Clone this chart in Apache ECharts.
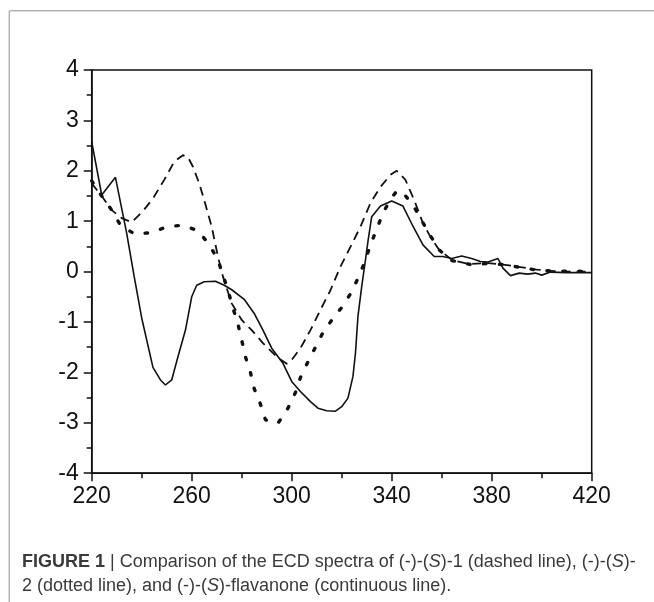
<!DOCTYPE html>
<html>
<head>
<meta charset="utf-8">
<script src="https://cdn.jsdelivr.net/npm/echarts@6/dist/echarts.min.js"></script>
<style>
  html, body { margin: 0; padding: 0; background: #fff; }
  #chart { width: 654px; height: 602px; }
</style>
</head>
<body>
<div id="chart"></div>
<script>
// ---- Data (wavelength in nm, ECD value) ----
const xTicks = [220, 260, 300, 340, 380, 420];
const yTicks = [-4, -3, -2, -1, 0, 1, 2, 3, 4];

// (-)-(S)-1 : dashed line
const compound1Nm = [220, 224, 228, 232, 236, 240.5, 244.5, 249, 253, 256.5, 258.5, 260.5, 263, 265, 268, 270.5, 272.5, 276, 280, 284, 288.5, 294, 298, 300, 303.5, 307.5, 311.5, 315.5, 319.5, 323.5, 327.5, 331.5, 335.5, 339.5, 342, 345.5, 349, 352.5, 355.5, 359, 364.5, 371, 378.5, 384.5, 390, 398, 405, 411, 420];
const compound1CD = [1.75, 1.5, 1.22, 1.06, 0.98, 1.2, 1.45, 1.82, 2.18, 2.31, 2.27, 2.08, 1.75, 1.42, 0.89, 0.3, -0.1, -0.63, -0.96, -1.16, -1.42, -1.69, -1.83, -1.75, -1.52, -1.16, -0.76, -0.37, 0.1, 0.49, 0.89, 1.36, 1.68, 1.92, 2.0, 1.82, 1.42, 0.96, 0.69, 0.43, 0.22, 0.15, 0.17, 0.14, 0.1, 0.04, 0.01, 0.0, 0.0];

// (-)-(S)-2 : dotted line
const compound2Nm = [220, 224, 228, 231.5, 237, 244, 250, 256.5, 262.5, 267, 270.5, 272.5, 274.5, 276.5, 278.5, 280, 281.5, 283.5, 285, 287.5, 289.5, 294.5, 298.5, 301.5, 303.5, 306.5, 309.5, 312.5, 316.5, 320.5, 324, 327, 329.5, 331.5, 334, 336.5, 339.5, 342, 344.5, 349, 352.5, 355.5, 359, 364, 371.5, 378.5, 384.5, 398, 405, 411.5, 420];
const compound2CD = [1.8, 1.5, 1.22, 0.92, 0.75, 0.77, 0.89, 0.92, 0.81, 0.54, 0.23, -0.07, -0.37, -0.72, -1.04, -1.36, -1.69, -2.0, -2.32, -2.63, -2.94, -3.01, -2.71, -2.4, -2.1, -1.79, -1.5, -1.21, -0.93, -0.68, -0.4, -0.08, 0.23, 0.53, 0.84, 1.16, 1.43, 1.6, 1.57, 1.28, 0.97, 0.71, 0.43, 0.22, 0.14, 0.16, 0.14, 0.03, 0.01, 0.01, 0.0];

// (-)-(S)-flavanone : continuous line
const flavanoneNm = [220, 224, 229.5, 234, 237, 240, 244.5, 247.5, 249.5, 252, 254.5, 257.5, 260, 262, 265, 269.5, 273, 276, 281, 285, 288.5, 292, 296.5, 300, 303.5, 307.5, 310.5, 314, 317.5, 320, 322.5, 324.5, 325.5, 326.5, 328, 329.5, 330.5, 332, 335.5, 340, 344.5, 348.5, 352.5, 357, 360.5, 364, 368, 372, 375.5, 378.5, 382.5, 384.5, 387.5, 391, 394.5, 397.5, 400, 403.5, 410, 420];
const flavanoneCD = [2.58, 1.52, 1.87, 0.76, -0.1, -0.92, -1.9, -2.15, -2.25, -2.15, -1.69, -1.16, -0.5, -0.27, -0.2, -0.19, -0.27, -0.36, -0.55, -0.83, -1.16, -1.52, -1.82, -2.18, -2.38, -2.58, -2.71, -2.76, -2.77, -2.68, -2.51, -2.08, -1.62, -0.89, -0.3, 0.23, 0.6, 1.09, 1.3, 1.4, 1.3, 0.9, 0.53, 0.3, 0.3, 0.26, 0.31, 0.26, 0.2, 0.19, 0.26, 0.07, -0.08, -0.03, -0.05, -0.03, -0.07, -0.01, -0.02, -0.02];

const captionLine1 = '{b|FIGURE 1} {sep|\u007C} Comparison of the ECD spectra of (-)-({i|S})-1 (dashed line), (-)-({i|S})-';
const captionLine2 = '2 (dotted line), and (-)-({i|S})-flavanone (continuous line).';

// ---- Chart ----
const zip = (xs, ys) => xs.map((x, i) => [x, ys[i]]);
const chart = echarts.init(document.getElementById('chart'), null, { renderer: 'canvas' });

const labelFont = { fontFamily: 'Liberation Sans, Arial, sans-serif', fontSize: 23, color: '#111' };
const capFont = 'Liberation Sans Narrow, Liberation Sans, Arial, sans-serif';
const capSize = 18;
const capRich = {
  b: { fontFamily: capFont, fontSize: capSize, fontWeight: 'bold', color: '#2a2a2a' },
  sep: { fontFamily: capFont, fontSize: capSize, color: '#555' },
  i: { fontFamily: capFont, fontSize: capSize, fontStyle: 'italic', color: '#3a3a3a' }
};

chart.setOption({
  animation: false,
  backgroundColor: '#fff',
  grid: { left: 91.7, right: 62.3, top: 70, bottom: 128.8, show: true, borderColor: '#111', borderWidth: 1.5, backgroundColor: 'transparent' },
  xAxis: {
    type: 'value', min: xTicks[0], max: xTicks[xTicks.length - 1], interval: 40,
    axisLine: { show: true, onZero: false, lineStyle: { color: '#111', width: 1.5 } },
    axisTick: { show: true, length: 8, lineStyle: { color: '#111', width: 1.5 } },
    minorTick: { show: true, splitNumber: 2, length: 5, lineStyle: { color: '#111', width: 1.5 } },
    splitLine: { show: false },
    axisLabel: Object.assign({ margin: 12 }, labelFont)
  },
  yAxis: {
    type: 'value', min: yTicks[0], max: yTicks[yTicks.length - 1], interval: 1,
    axisLine: { show: true, onZero: false, lineStyle: { color: '#111', width: 1.5 } },
    axisTick: { show: true, length: 8, lineStyle: { color: '#111', width: 1.5 } },
    minorTick: { show: true, splitNumber: 2, length: 5, lineStyle: { color: '#111', width: 1.5 } },
    splitLine: { show: false },
    axisLabel: Object.assign({ margin: 13 }, labelFont)
  },
  series: [
    {
      name: '(-)-(S)-1', type: 'line', data: zip(compound1Nm, compound1CD), symbol: 'none', silent: true,
      lineStyle: { color: '#111', width: 1.8, type: [9, 6] }
    },
    {
      name: '(-)-(S)-2', type: 'line', data: zip(compound2Nm, compound2CD), symbol: 'none', silent: true,
      lineStyle: { color: '#111', width: 3.4, type: [2.5, 13.5], cap: 'round' }
    },
    {
      name: '(-)-(S)-flavanone', type: 'line', data: zip(flavanoneNm, flavanoneCD), symbol: 'none', silent: true,
      lineStyle: { color: '#111', width: 1.6 }
    }
  ],
  graphic: [
    { type: 'line', shape: { x1: 9.3, y1: 10.7, x2: 654, y2: 10.7 }, style: { stroke: '#b3b3b3', lineWidth: 1.5 }, silent: true },
    { type: 'line', shape: { x1: 9.3, y1: 10.7, x2: 9.3, y2: 602 }, style: { stroke: '#b3b3b3', lineWidth: 1.5 }, silent: true },
    { type: 'text', left: 22, top: 553, style: { text: captionLine1, fontFamily: capFont, fontSize: capSize, fill: '#3a3a3a', rich: capRich }, silent: true },
    { type: 'text', left: 22, top: 577, style: { text: captionLine2, fontFamily: capFont, fontSize: capSize, fill: '#3a3a3a', rich: capRich }, silent: true }
  ]
});
</script>
</body>
</html>
